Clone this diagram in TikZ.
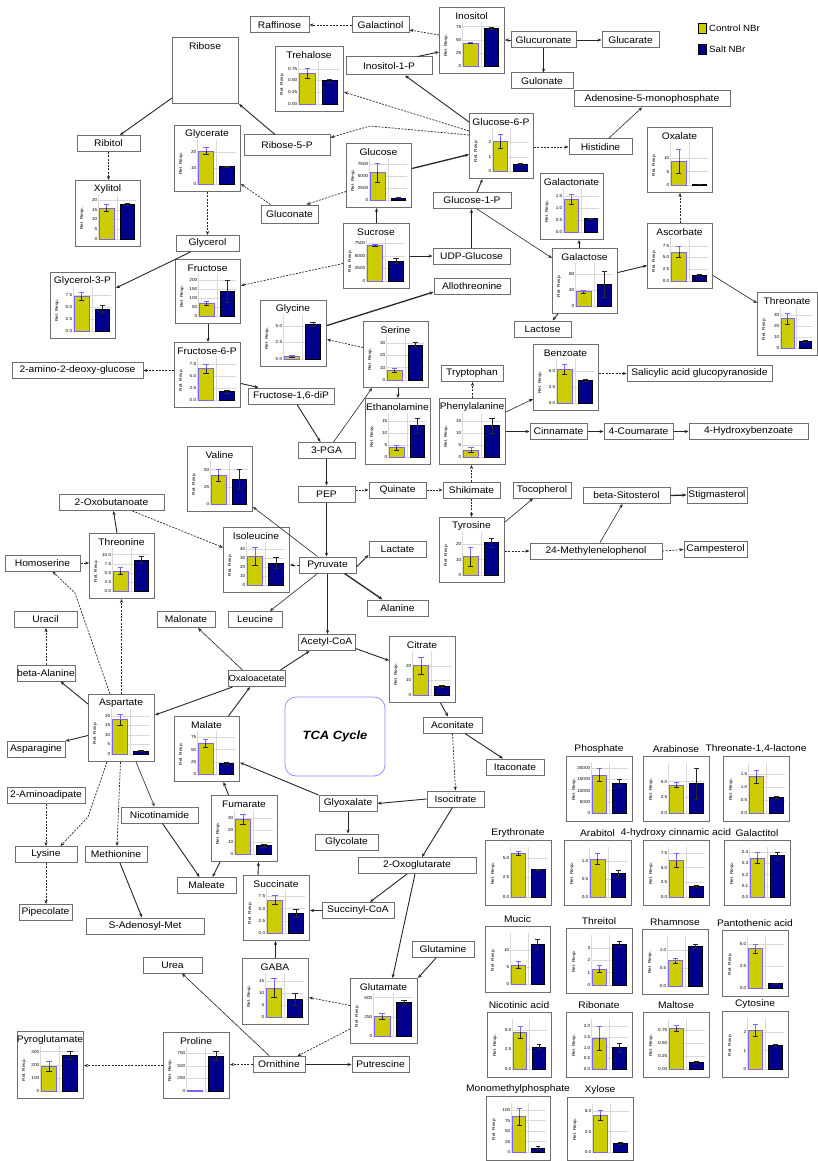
\documentclass[tikz,border=0pt]{standalone}
\usepackage{fontspec}
\setmainfont{Liberation Sans}[FakeStretch=1.08]
\usetikzlibrary{arrows.meta,calc}
\definecolor{ybarc}{RGB}{204,204,0}
\definecolor{bbarc}{RGB}{0,0,140}
\definecolor{purp}{RGB}{120,100,255}
\definecolor{boxd}{RGB}{110,110,110}
\tikzset{
 lbl/.style={draw=boxd, line width=1pt, fill=white, minimum height=16, inner sep=0pt, font=\fontsize{9.5}{10}\selectfont},
 cbox/.style={draw=boxd, line width=1pt, fill=white, inner sep=0pt},
 ctitle/.style={inner sep=0pt, font=\fontsize{9.5}{10}\selectfont},
 tickl/.style={inner sep=0.6pt, font=\fontsize{4.3}{5}\selectfont},
 ylab/.style={inner sep=0pt, font=\fontsize{4.3}{5}\selectfont, rotate=90},
 gridl/.style={draw=black!15, line width=0.4pt},
 ybarst/.style={fill=ybarc, draw=purp, line width=0.5pt},
 bbarst/.style={fill=bbarc, draw=black, line width=0.5pt},
 errk/.style={draw=black!85, line width=0.5pt},
 errp/.style={draw=purp, line width=0.5pt},
 con/.style={draw=black!85, line width=0.9pt, -{Stealth[length=4pt,width=3.2pt]}},
 kcon/.style={con, line width=1.3pt},
 tcon/.style={con, line width=0.6pt},
 dcon/.style={con, line width=0.7pt, dash pattern=on 2pt off 1.3pt},
}
\newcommand\chartbox[6]{%
  \node[cbox, minimum width=#4, minimum height=#5, anchor=north west] (#1) at (#2,#3) {};
  \node[ctitle] (#1t) at ({#2+#4/2},{#3+9}) {#6};
  \pgfmathsetmacro\PXa{#2+23}%
  \pgfmathsetmacro\PXb{#2+#4-4}%
  \pgfmathsetmacro\PYb{#3+#5-7}%
  \pgfmathsetmacro\PYt{#3+18}%
  \pgfmathsetmacro\PLX{#2+7}%
}
\newcommand\gridbox[6]{%
  \node[cbox, minimum width=#4, minimum height=#5, anchor=north west] (#1) at (#2,#3) {};
  \node[ctitle] (#1t) at ({#2+#4/2},{#3-7}) {#6};
  \pgfmathsetmacro\PXa{#2+25}%
  \pgfmathsetmacro\PXb{#2+#4-4}%
  \pgfmathsetmacro\PYb{#3+#5-8}%
  \pgfmathsetmacro\PYt{#3+10}%
  \pgfmathsetmacro\PLX{#2+8}%
}
\newcommand\bars[6]{%
  \pgfmathsetmacro\PH{\PYb-\PYt}%
  \pgfmathsetmacro\PW{\PXb-\PXa}%
  \pgfmathsetmacro\Ya{\PXa+0.04*\PW}%
  \pgfmathsetmacro\Yb{\PXa+0.42*\PW}%
  \pgfmathsetmacro\Ym{\PXa+0.23*\PW}%
  \pgfmathsetmacro\Ba{\PXa+0.58*\PW}%
  \pgfmathsetmacro\Bb{\PXa+0.96*\PW}%
  \pgfmathsetmacro\Bm{\PXa+0.77*\PW}%
  \pgfmathsetmacro\Cw{0.07*\PW}%
  \pgfmathsetmacro\yT{\PYb-(#2)/(#1)*\PH}%
  \pgfmathsetmacro\yE{\PYb-(#2+#3)/(#1)*\PH}%
  \pgfmathsetmacro\yL{\PYb-(#2-#3)/(#1)*\PH}%
  \pgfmathsetmacro\bT{\PYb-(#4)/(#1)*\PH}%
  \pgfmathsetmacro\bE{\PYb-(#4+#5)/(#1)*\PH}%
  \pgfmathsetmacro\bL{\PYb-(#4-#5)/(#1)*\PH}%
  \foreach \tkv/\tkl in {#6}{%
    \draw[gridl] (\PXa,{\PYb-\tkv/(#1)*\PH}) -- (\PXb,{\PYb-\tkv/(#1)*\PH});
    \node[tickl,anchor=east] at (\PXa,{\PYb-\tkv/(#1)*\PH}) {\tkl};
  }%
  \draw[gridl] ({\PXa+0.5*\PW},{\PYt-3}) -- ({\PXa+0.5*\PW},\PYb);
  \draw[gridl] (\PXa,{\PYt-3}) -- (\PXa,\PYb);
  \draw[ybarst] (\Ya,\PYb) rectangle (\Yb,\yT);
  \draw[bbarst] (\Ba,\PYb) rectangle (\Bb,\bT);
  \draw[errk] (\Ym,\yL) -- (\Ym,\yT) ({\Ym-\Cw},\yL) -- ({\Ym+\Cw},\yL);
  \draw[errp] (\Ym,\yT) -- (\Ym,\yE) ({\Ym-\Cw},\yE) -- ({\Ym+\Cw},\yE);
  \draw[errk] (\Bm,\bL) -- (\Bm,\bE) ({\Bm-\Cw},\bL) -- ({\Bm+\Cw},\bL) ({\Bm-\Cw},\bE) -- ({\Bm+\Cw},\bE);
  \node[ylab] at (\PLX,{(\PYb+\PYt)/2}) {Rel. Resp.};
}
\begin{document}
\begin{tikzpicture}[x=1pt,y=-1pt]
\useasboundingbox (0,0) rectangle (818,1161);
\fill[white] (0,0) rectangle (818,1161);

% ---------- plain label boxes ----------
\node[lbl, minimum width=59] (raffinose) at (279.5,25) {Raffinose};
\node[lbl, minimum width=57] (galactinol) at (380.5,25) {Galactinol};
\node[lbl, minimum width=65] (glucuronate) at (543.5,40) {Glucuronate};
\node[lbl, minimum width=57] (glucarate) at (630.5,40) {Glucarate};
\node[lbl, minimum width=62] (gulonate) at (542,81) {Gulonate};
\node[lbl, minimum width=86, minimum height=18] (i1p) at (389,66) {Inositol-1-P};
\node[lbl, minimum width=156] (amp) at (652,99) {Adenosine-5-monophosphate};
\node[lbl, minimum width=86, minimum height=21] (r5p) at (287,145.5) {Ribose-5-P};
\node[lbl, minimum width=63] (histidine) at (600.5,147) {Histidine};
\node[lbl, minimum width=63] (ribitol) at (108.5,143.5) {Ribitol};
\node[lbl, minimum width=57, minimum height=18] (gluconate) at (289.5,214) {Gluconate};
\node[lbl, minimum width=78] (g1p) at (472,200.5) {Glucose-1-P};
\node[lbl, minimum width=77] (udp) at (471.5,256) {UDP-Glucose};
\node[lbl, minimum width=63] (glycerol) at (207.5,243.5) {Glycerol};
\node[lbl, minimum width=76] (allothreonine) at (472,286.5) {Allothreonine};
\node[lbl, minimum width=57] (lactose) at (542.5,329) {Lactose};
\node[lbl, minimum width=131] (amino) at (77.5,370.5) {2-amino-2-deoxy-glucose};
\node[lbl, minimum width=145] (sag) at (699.5,373.5) {Salicylic acid glucopyranoside};
\node[lbl, minimum width=62] (trp) at (472,373.5) {Tryptophan};
\node[lbl, minimum width=86] (f16) at (291,396) {Fructose-1,6-diP};
\node[lbl, minimum width=57] (cinnamate) at (558.5,431.5) {Cinnamate};
\node[lbl, minimum width=69] (coumarate) at (638.5,431.5) {4-Coumarate};
\node[lbl, minimum width=119] (hbenzoate) at (748.5,431.5) {4-Hydroxybenzoate};
\node[lbl, minimum width=57] (pga) at (326.5,450.5) {3-PGA};
\node[lbl, minimum width=57] (pep) at (326.5,494) {PEP};
\node[lbl, minimum width=57] (quinate) at (397.5,490) {Quinate};
\node[lbl, minimum width=57] (shikimate) at (471.5,490) {Shikimate};
\node[lbl, minimum width=58] (tocopherol) at (542,490) {Tocopherol};
\node[lbl, minimum width=87] (sitosterol) at (626.5,495.5) {beta-Sitosterol};
\node[lbl, minimum width=60] (stigmasterol) at (717,495) {Stigmasterol};
\node[lbl, minimum width=105] (oxobut) at (111.5,502.5) {2-Oxobutanoate};
\node[lbl, minimum width=132] (methyl) at (596,551) {24-Methylenelophenol};
\node[lbl, minimum width=63] (campesterol) at (715.5,549.5) {Campesterol};
\node[lbl, minimum width=57] (lactate) at (397.5,549) {Lactate};
\node[lbl, minimum width=75] (homoserine) at (42.5,563) {Homoserine};
\node[lbl, minimum width=57] (pyruvate) at (327.5,565) {Pyruvate};
\node[lbl, minimum width=61] (alanine) at (397.5,608) {Alanine};
\node[lbl, minimum width=63] (uracil) at (45.5,619.5) {Uracil};
\node[lbl, minimum width=58] (malonate) at (186,619.5) {Malonate};
\node[lbl, minimum width=54] (leucine) at (255,619.5) {Leucine};
\node[lbl, minimum width=57] (acetyl) at (326.5,642.5) {Acetyl-CoA};
\node[lbl, minimum width=58] (betaala) at (46,673) {beta-Alanine};
\node[lbl, minimum width=57, font=\fontsize{8.8}{10}\selectfont] (oxalo) at (256.5,678.5) {Oxaloacetate};
\node[lbl, minimum width=59] (aconitate) at (452.5,725) {Aconitate};
\node[lbl, minimum width=58] (asparagine) at (36,749.5) {Asparagine};
\node[lbl, minimum width=58] (itaconate) at (515,767) {Itaconate};
\node[lbl, minimum width=78] (aminoadipate) at (46,795.5) {2-Aminoadipate};
\node[lbl, minimum width=57] (isocitrate) at (455.5,799) {Isocitrate};
\node[lbl, minimum width=58] (glyoxalate) at (348,803.5) {Glyoxalate};
\node[lbl, minimum width=77] (nicotinamide) at (159.5,815) {Nicotinamide};
\node[lbl, minimum width=63] (glycolate) at (346.5,842) {Glycolate};
\node[lbl, minimum width=62] (lysine) at (46,854.5) {Lysine};
\node[lbl, minimum width=62] (methionine) at (116,854.5) {Methionine};
\node[lbl, minimum width=118] (oxoglut) at (417,865.5) {2-Oxoglutarate};
\node[lbl, minimum width=59] (maleate) at (206.5,885.5) {Maleate};
\node[lbl, minimum width=72] (succinyl) at (358,910.5) {Succinyl-CoA};
\node[lbl, minimum width=53] (pipecolate) at (45.5,912.5) {Pipecolate};
\node[lbl, minimum width=118] (sam) at (145,926) {S-Adenosyl-Met};
\node[lbl, minimum width=62] (glutamine) at (443,949.5) {Glutamine};
\node[lbl, minimum width=59] (urea) at (172.5,965) {Urea};
\node[lbl, minimum width=52] (ornithine) at (279,1064.5) {Ornithine};
\node[lbl, minimum width=57] (putrescine) at (380.5,1064.5) {Putrescine};

% ---------- Ribose (empty box) ----------
\node[cbox, minimum width=66, minimum height=66, anchor=north west] (ribose) at (172,37) {};
\node[ctitle] (riboset) at (205,46) {Ribose};

% ---------- TCA ----------
\node[draw=purp!80, line width=0.7pt, rounded corners=11pt, minimum width=100, minimum height=79, font=\bfseries\itshape\fontsize{12}{14}\selectfont] (tca) at (335,736.5) {TCA Cycle};

% ---------- legend ----------
\node[draw=black, line width=0.5pt, fill=ybarc, minimum width=8, minimum height=10, inner sep=0pt] (legy) at (702,28) {};
\node[anchor=west, inner sep=0pt, font=\fontsize{9}{10}\selectfont] (legyt) at (709,28) {Control NBr};
\node[draw=black, line width=0.5pt, fill=bbarc, minimum width=8, minimum height=10, inner sep=0pt] (legb) at (702,49) {};
\node[anchor=west, inner sep=0pt, font=\fontsize{9}{10}\selectfont] (legbt) at (709,49) {Salt NBr};

% ---------- charts ----------
\chartbox{xylitol}{75}{180}{65}{66}{Xylitol}
\bars{21}{16}{2}{18}{0.5}{0/0,5/5,10/10,15/15,20/20}
\chartbox{glycerate}{174}{125}{66}{66}{Glycerate}
\bars{26}{21}{2}{11}{0.3}{0/0,10/10,20/20}
\chartbox{g3p}{50}{272}{65}{66}{Glycerol-3-P}
\bars{8.5}{7.2}{0.8}{4.5}{0.8}{0/0.0,2.5/2.5,5/5.0,7.5/7.5}
\chartbox{fructose}{175}{259}{65}{64}{Fructose}
\bars{215}{70}{12}{135}{60}{0/0,50/50,100/100,150/150,200/200}
\chartbox{f6p}{174}{342}{66}{65}{Fructose-6-P}
\bars{8.3}{6.5}{1.0}{1.8}{0.3}{0/0.0,2.5/2.5,5/5.0,7.5/7.5}
\chartbox{trehalose}{275}{46}{68}{65}{Trehalose}
\bars{0.85}{0.65}{0.1}{0.5}{0.03}{0/0.00,0.25/0.25,0.5/0.50,0.75/0.75}
\chartbox{inositol}{439}{7}{65}{66}{Inositol}
\bars{78}{44}{1}{72}{2}{0/0,25/25,50/50,75/75}
\chartbox{g6p}{469}{113}{64}{65}{Glucose-6-P}
\bars{2.8}{2.1}{0.5}{0.5}{0.05}{0/0,1/1,2/2}
\chartbox{glucose}{346}{143}{65}{64}{Glucose}
\bars{8200}{5800}{2000}{400}{100}{0/0,2500/2500,5000/5000,7500/7500}
\chartbox{sucrose}{343}{223}{66}{65}{Sucrose}
\bars{8000}{7200}{150}{4000}{500}{0/0,2500/2500,5000/5000,7500/7500}
\chartbox{galactonate}{540}{173}{63}{66}{Galactonate}
\bars{1.7}{1.35}{0.2}{0.55}{0.02}{0/0.0,0.5/0.5,1/1.0,1.5/1.5}
\chartbox{oxalate}{647}{127}{65}{65}{Oxalate}
\bars{15}{9}{4.5}{0.25}{0.05}{0/0,5/5,10/10}
\chartbox{galactose}{552}{248}{65}{65}{Galactose}
\bars{100}{36}{3}{55}{32}{0/0,40/40,80/80}
\chartbox{ascorbate}{647}{223}{65}{65}{Ascorbate}
\bars{8.5}{6.2}{1.2}{1.2}{0.2}{0/0.0,2.5/2.5,5/5.0,7.5/7.5}
\chartbox{threonate}{757}{292}{60}{63}{Threonate}
\bars{35}{27}{5}{6}{1}{0/0,10/10,20/20,30/30}
\chartbox{glycine}{260}{300}{66}{66}{Glycine}
\bars{6.2}{0.4}{0.2}{5.3}{0.3}{0/0.0,2.5/2.5,5/5.0}
\chartbox{serine}{363}{321}{65}{66}{Serine}
\bars{33}{8}{1.5}{28}{2}{0/0,10/10,20/20,30/30}
\chartbox{ethanolamine}{365}{398}{65}{66}{Ethanolamine}
\bars{17}{4}{1}{13}{3}{0/0,5/5,10/10,15/15}
\chartbox{phe}{439}{398}{66}{66}{Phenylalanine}
\bars{17}{3}{1}{13}{3}{0/0,5/5,10/10,15/15}
\chartbox{benzoate}{533}{344}{65}{66}{Benzoate}
\bars{6.5}{5.3}{0.8}{3.6}{0.1}{0/0.0,2.5/2.5,5/5.0}
\chartbox{tyr}{439}{517}{65}{65}{Tyrosine}
\bars{26}{12}{6}{21}{3}{0/0,10/10,20/20}
\chartbox{valine}{187}{446}{65}{65}{Valine}
\bars{58}{42}{9}{36}{15}{0/0,25/25,50/50}
\chartbox{threonine}{89}{533}{65}{65}{Threonine}
\bars{11}{5.5}{1}{8.5}{1}{0/0.0,2.5/2.5,5/5.0,7.5/7.5,10/10.0}
\chartbox{isoleucine}{223}{527}{66}{65}{Isoleucine}
\bars{45}{32}{10}{25}{6}{0/0,10/10,20/20,30/30,40/40}
\chartbox{citrate}{389}{636}{66}{66}{Citrate}
\bars{28}{20}{6}{6}{1}{0/0,10/10,20/20}
\chartbox{aspartate}{88}{694}{66}{67}{Aspartate}
\bars{22}{18}{3}{1.5}{0.3}{0/0,5/5,10/10,15/15,20/20}
\chartbox{malate}{174}{716}{65}{65}{Malate}
\bars{82}{63}{8}{23}{2}{0/0,25/25,50/50,75/75}
\chartbox{fumarate}{211}{795}{66}{66}{Fumarate}
\bars{34}{29}{4}{7}{1}{0/0,10/10,20/20,30/30}
\chartbox{succinate}{243}{875}{66}{65}{Succinate}
\bars{8.2}{6.8}{1}{4}{0.8}{0/0.0,2.5/2.5,5/5.0,7.5/7.5}
\chartbox{gaba}{242}{958}{66}{66}{GABA}
\bars{17}{12}{4}{7.5}{2.5}{0/0,5/5,10/10,15/15}
\chartbox{glutamate}{350}{978}{67}{65}{Glutamate}
\bars{520}{260}{40}{440}{25}{0/0,250/250,500/500}
\chartbox{pyro}{17}{1031}{66}{67}{Pyroglutamate}
\bars{320}{190}{40}{270}{30}{0/0,100/100,200/200,300/300}
\chartbox{proline}{163}{1032}{66}{66}{Proline}
\bars{820}{15}{5}{700}{90}{0/0,250/250,500/500,750/750}

% ---------- grid charts ----------
\gridbox{phosphate}{566}{756}{66}{65}{Phosphate}
\bars{21}{17}{3}{13.5}{1.5}{0/0,5/5000,10/10000,15/15000,20/20000}
\gridbox{arabinose}{643}{756}{66}{65}{Arabinose}
\bars{7.5}{4.5}{0.4}{4.7}{2.5}{0/0.0,2.5/2.5,5/5.0}
\gridbox{lactone}{723}{756}{66}{65}{Threonate-1,4-lactone}
\bars{1.8}{1.4}{0.25}{0.6}{0.05}{0/0.0,0.5/0.5,1/1.0,1.5/1.5}
\gridbox{erythronate}{485}{840}{66}{65}{Erythronate}
\bars{6}{5.6}{0.3}{3.5}{0.1}{0/0.0,2.5/2.5,5/5.0}
\gridbox{arabitol}{564}{840}{67}{65}{Arabitol}
\bars{1.3}{1.05}{0.15}{0.65}{0.1}{0/0.0,0.5/0.5,1/1.0}
\gridbox{hca}{643}{840}{66}{65}{4-hydroxy cinnamic acid}
\bars{8}{6.2}{1.2}{1.8}{0.2}{0/0.0,2.5/2.5,5/5.0,7.5/7.5}
\gridbox{galactitol}{724}{840}{66}{65}{Galactitol}
\bars{0.42}{0.35}{0.05}{0.37}{0.03}{0/0.0,0.1/0.1,0.2/0.2,0.3/0.3,0.4/0.4}
\gridbox{mucic}{485}{926}{65}{66}{Mucic}
\bars{14}{5.5}{1}{11.5}{1.5}{0/0,5/5,10/10}
\gridbox{threitol}{566}{928}{66}{65}{Threitol}
\bars{3.8}{1.3}{0.3}{3.3}{0.2}{0/0,1/1,2/2,3/3}
\gridbox{rhamnose}{642}{929}{66}{65}{Rhamnose}
\bars{1.3}{0.7}{0.08}{1.1}{0.06}{0/0.0,0.5/0.5,1/1.0}
\gridbox{panto}{722}{930}{66}{66}{Pantothenic acid}
\bars{5.5}{4.5}{0.5}{0.5}{0.05}{0/0.0,2.5/2.5,5/5.0}
\gridbox{nicotinic}{487}{1012}{64}{65}{Nicotinic acid}
\bars{6}{4.7}{0.8}{2.8}{0.3}{0/0.0,2.5/2.5,5/5.0}
\gridbox{ribonate}{566}{1012}{66}{65}{Ribonate}
\bars{2.2}{1.45}{0.55}{1.0}{0.2}{0/0.0,0.5/0.5,1/1.0,1.5/1.5,2/2.0}
\gridbox{maltose}{643}{1012}{66}{65}{Maltose}
\bars{0.9}{0.78}{0.05}{0.13}{0.02}{0/0.00,0.25/0.25,0.5/0.50,0.75/0.75}
\gridbox{cytosine}{722}{1011}{66}{66}{Cytosine}
\bars{2.6}{2.1}{0.3}{1.3}{0.05}{0/0,1/1,2/2}
\gridbox{mmp}{486}{1096}{64}{64}{Monomethylphosphate}
\bars{110}{85}{20}{10}{3}{0/0,25/25,50/50,75/75,100/100}
\gridbox{xylose}{567}{1097}{66}{63}{Xylose}
\bars{5.5}{4.5}{0.6}{1.1}{0.1}{0/0.0,2.5/2.5,5/5.0}

% ---------- bend points ----------
\coordinate (bendA) at (370,126);
\coordinate (bendB) at (75,593);
\coordinate (bendC) at (88,817);

% ---------- connectors: upper part ----------
\draw[con] ($(ribose.south west)+(0,-6)$) -- ($(ribitol.north)+(11.5,0)$);
\draw[con] ($(r5p.north)+(-12,0)$) -- (ribose.south east);
\draw[dcon] (ribitol.south) -- (ribitol.south |- xylitol.north);
\draw[dcon] (glycerate.south) -- (glycerate.south |- glycerol.north);
\draw[dcon] ($(gluconate.north west)+(10,0)$) -- ($(glycerate.south east)+(0,-8)$);
\draw[con] ($(glycerol.south)+(-17,0)$) -- ($(g3p.north east)+(0,16)$);
\draw[dcon] ($(sucrose.west)+(0,7.5)$) -- ($(fructose.east)+(0,-6)$);
\draw[con] (fructose.south) -- (fructose.south |- f6p.north);
\draw[dcon] (f6p.west |- amino.east) -- (amino.east);
\draw[con] ($(f6p.east)+(0,8.5)$) -- ($(f16.north west)+(11,0)$);
\draw[con] ($(f16.south)+(6,0)$) -- ($(pga.north)+(-6,0)$);
\draw[dcon] (galactinol.west) -- (raffinose.east);
\draw[dcon] ($(inositol.north west)+(0,28)$) -- ($(galactinol.east)+(0,5)$);
\draw[con] ($(i1p.north east)+(-15,0)$) -- ($(inositol.north west)+(0,45)$);
\draw[con] ($(g6p.north west)+(0,9)$) -- ($(i1p.south)+(16,0)$);
\draw[dcon] ($(g6p.north west)+(0,18)$) -- ($(trehalose.north east)+(0,46)$);
\draw[dcon] ($(g6p.north west)+(0,22)$) -- (bendA) -- ($(r5p.north east)+(0,3)$);
\draw[kcon] ($(glucose.east)+(0,-7)$) -- ($(g6p.west)+(0,8.5)$);
\draw[dcon] ($(glucose.west)+(0,16)$) -- ($(gluconate.north east)+(-12,0)$);
\draw[con] (sucrose.north) -- (sucrose.north |- glucose.south);
\draw[con] (sucrose.east |- udp.west) -- (udp.west);
\draw[con] (udp.north) -- (udp.north |- g1p.south);
\draw[con] ($(g1p.north)+(5,0)$) -- ($(g6p.south)+(-19,0)$);
\draw[tcon] ($(g1p.south)+(5,0)$) -- ($(galactose.north west)+(0,10)$);
\draw[con] (glucuronate.west) -- (glucuronate.west -| inositol.east);
\draw[con] (glucuronate.east) -- (glucarate.west);
\draw[kcon] (glucuronate.south) -- (glucuronate.south |- gulonate.north);
\draw[dcon] (g6p.east |- histidine.west) -- (histidine.west);
\draw[tcon] ($(histidine.north)+(8,0)$) -- ($(amp.south)+(-10,0)$);
\draw[con] ($(galactose.north)+(-6,0)$) -- ($(galactonate.south)+(7,0)$);
\draw[con] ($(galactose.east)+(0,-8.5)$) -- ($(ascorbate.west)+(0,9.5)$);
\draw[dcon] (ascorbate.north) -- (oxalate.south);
\draw[tcon] ($(ascorbate.east)+(0,19.5)$) -- ($(threonate.north west)+(0,11)$);
\draw[con] ($(galactose.south west)+(6,0)$) -- ($(lactose.north)+(10,0)$);

% ---------- connectors: middle ----------
\draw[kcon] ($(glycine.east)+(0,-8)$) -- ($(allothreonine.west)+(0,5.5)$);
\draw[dcon] ($(serine.west)+(0,-7)$) -- ($(glycine.east)+(0,6)$);
\draw[con] (ethanolamine.north |- serine.south) -- (ethanolamine.north);
\draw[tcon] ($(pga.north)+(7,0)$) -- ($(serine.south west)+(9,0)$);
\draw[con] (pga.south) -- (pep.north);
\draw[dcon] (pep.east |- quinate.west) -- (quinate.west);
\draw[dcon] (quinate.east) -- (shikimate.west);
\draw[dcon] (shikimate.north) -- (shikimate.north |- phe.south);
\draw[dcon] (shikimate.south) -- (shikimate.south |- tyr.north);
\draw[dcon] (phe.north) -- (phe.north |- trp.south);
\draw[tcon] ($(phe.north east)+(0,14)$) -- ($(benzoate.south west)+(0,-12)$);
\draw[kcon] (phe.east |- cinnamate.west) -- (cinnamate.west);
\draw[con] (cinnamate.east) -- (coumarate.west);
\draw[con] (coumarate.east) -- (hbenzoate.west);
\draw[dcon] (benzoate.east |- sag.west) -- (sag.west);
\draw[tcon] ($(tyr.north east)+(0,5)$) -- ($(tocopherol.south)+(-9,0)$);
\draw[dcon] (tyr.east |- methyl.west) -- (methyl.west);
\draw[tcon] ($(methyl.north)+(4,0)$) -- ($(sitosterol.south)+(-4,0)$);
\draw[kcon] (sitosterol.east) -- (stigmasterol.west);
\draw[dcon] (methyl.east) -- (campesterol.west);
\draw[con] (pep.south) -- (pep.south |- pyruvate.north);
\draw[con] ($(pyruvate.east)+(0,2)$) -- ($(lactate.west)+(0,6)$);
\draw[dcon] (pyruvate.west) -- (pyruvate.west -| isoleucine.east);
\draw[tcon] ($(pyruvate.north)+(-10,0)$) -- ($(valine.south east)+(0,-5)$);
\draw[tcon] ($(pyruvate.south)+(-10,0)$) -- ($(leucine.north)+(15,0)$);
\draw[kcon] ($(pyruvate.south east)+(-12,0)$) -- ($(alanine.north)+(-15,0)$);
\draw[con] (pyruvate.south) -- (pyruvate.south |- acetyl.north);
\draw[con] ($(oxalo.north east)+(-5,0)$) -- ($(acetyl.south west)+(12,0)$);
\draw[con] ($(acetyl.east)+(0,6)$) -- ($(citrate.west)+(0,-9)$);
\draw[con] ($(citrate.south)+(18,0)$) -- ($(aconitate.north)+(-4.5,0)$);
\draw[con] ($(aconitate.south)+(12.5,0)$) -- ($(itaconate.north)+(-12,0)$);
\draw[dcon] (aconitate.south) -- (isocitrate.north);
\draw[con] (isocitrate.west) -- (glyoxalate.east);
\draw[con] (glyoxalate.south) -- (glyoxalate.south |- glycolate.north);
\draw[con] (glyoxalate.north west) -- ($(malate.east)+(0,13.5)$);
\draw[con] ($(isocitrate.south)+(-3,0)$) -- ($(oxoglut.north)+(5,0)$);
\draw[con] ($(oxoglut.south)+(-10,0)$) -- ($(succinyl.north)+(12,0)$);
\draw[con] ($(oxoglut.south)+(-2,0)$) -- ($(glutamate.north)+(8.5,0)$);
\draw[con] (succinyl.west) -- (succinyl.west -| succinate.east);
\draw[con] (gaba.north) -- (gaba.north |- succinate.south);
\draw[dcon] ($(glutamate.west)+(0,-5.5)$) -- ($(gaba.east)+(0,6)$);
\draw[con] ($(glutamine.south)+(-7,0)$) -- (glutamate.north east);
\draw[dcon] ($(glutamate.south west)+(0,-15)$) -- ($(ornithine.north east)+(-8,0)$);
\draw[con] (ornithine.east) -- (putrescine.west);
\draw[dcon] (ornithine.west) -- (ornithine.west -| proline.east);
\draw[dcon] (proline.west) -- (proline.west -| pyro.east);
\draw[tcon] ($(ornithine.north west)+(17,0)$) -- ($(urea.south)+(9.5,0)$);
\draw[con] ($(succinate.north west)+(15,0)$) -- ($(fumarate.south)+(14,0)$);
\draw[con] ($(fumarate.north)+(-16,0)$) -- ($(malate.south)+(16.5,0)$);
\draw[con] ($(malate.north)+(21.5,0)$) -- ($(oxalo.south)+(-6.5,0)$);
\draw[con] ($(oxalo.south west)+(5,0)$) -- ($(aspartate.north east)+(0,21)$);
\draw[tcon] ($(oxalo.north west)+(15,0)$) -- ($(malonate.south)+(12,0)$);

% ---------- connectors: left ----------
\draw[con] ($(aspartate.north west)+(0,10)$) -- ($(betaala.south east)+(-15,0)$);
\draw[dcon] (betaala.north) -- (betaala.north |- uracil.south);
\draw[con] ($(aspartate.west)+(0,7.5)$) -- (asparagine.north east);
\draw[dcon] (aspartate.north) -- (aspartate.north |- threonine.south);
\draw[dcon] ($(aspartate.north west)+(22,0)$) -- (bendB) -- ($(homoserine.south)+(10,0)$);
\draw[dcon] (homoserine.east) -- (homoserine.east -| threonine.west);
\draw[con] ($(threonine.north)+(-5,0)$) -- ($(oxobut.south)+(2,0)$);
\draw[dcon] ($(oxobut.south east)+(-32,0)$) -- ($(isoleucine.west)+(0,-12.5)$);
\draw[dcon] ($(aspartate.south west)+(19,0)$) -- (bendC) -- ($(lysine.north east)+(-17,0)$);
\draw[dcon] (aminoadipate.south) -- (aminoadipate.south |- lysine.north);
\draw[dcon] (lysine.south) -- (lysine.south |- pipecolate.north);
\draw[dcon] ($(aspartate.south)+(-1,0)$) -- ($(methionine.north)+(1,0)$);
\draw[con] ($(methionine.south)+(4,0)$) -- ($(sam.north)+(-3,0)$);
\draw[tcon] ($(aspartate.south east)+(-19,0)$) -- ($(nicotinamide.north)+(-5,0)$);
\draw[con] ($(nicotinamide.south)+(3,0)$) -- ($(maleate.north west)+(23,0)$);
\draw[con] ($(fumarate.south west)+(9,0)$) -- ($(maleate.north)+(6,0)$);
\end{tikzpicture}
\end{document}
